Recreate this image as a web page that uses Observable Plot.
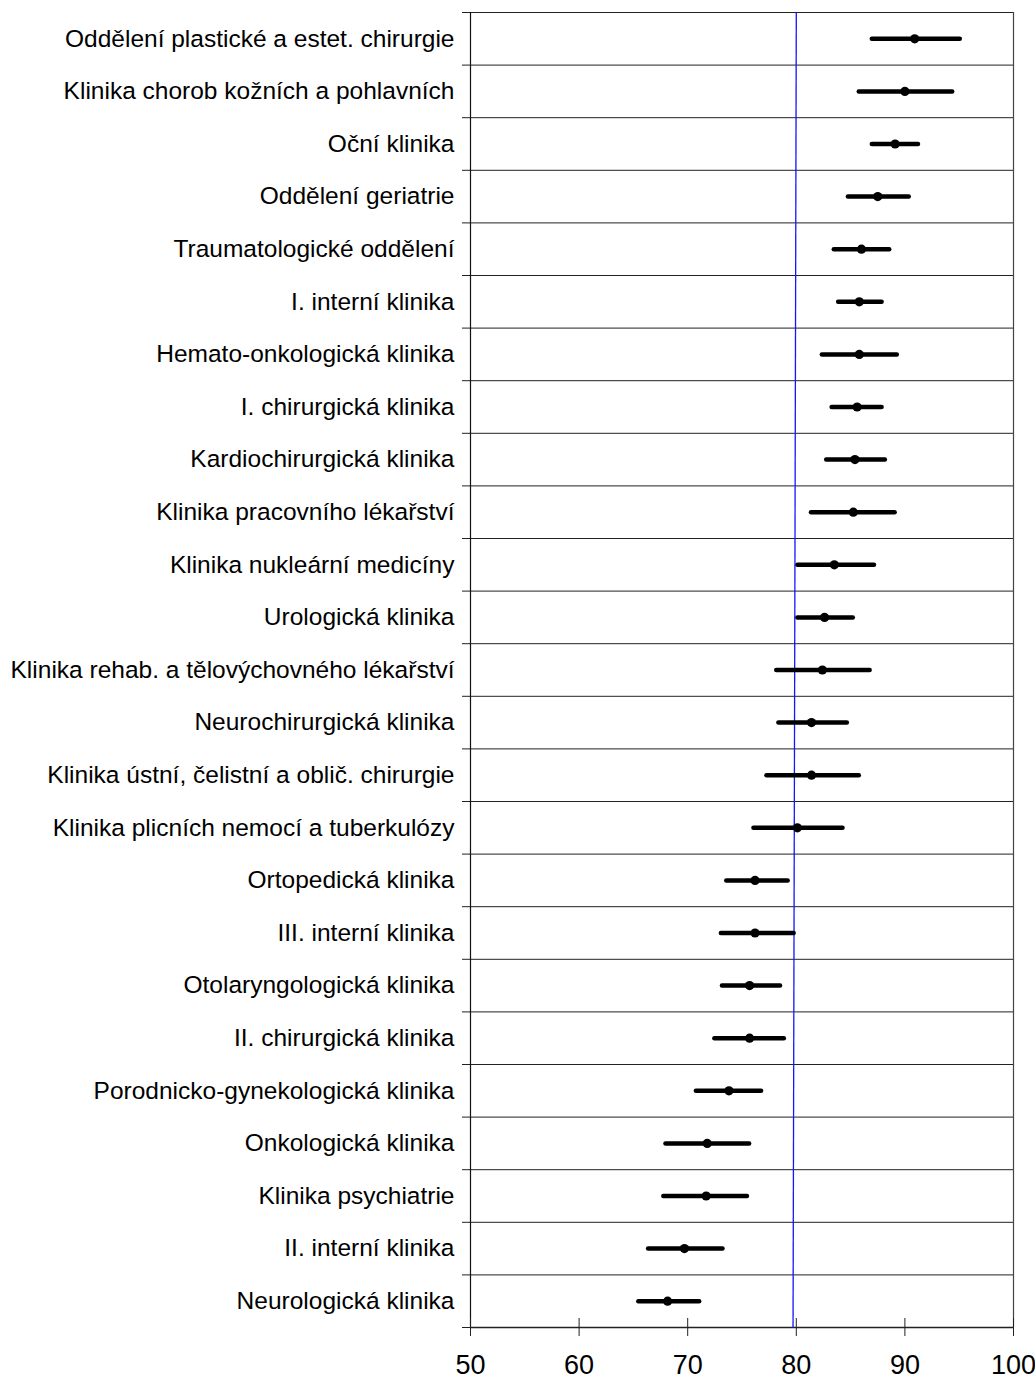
<!DOCTYPE html>
<html>
<head>
<meta charset="utf-8">
<script src="https://cdn.jsdelivr.net/npm/d3@7"></script>
<script src="https://cdn.jsdelivr.net/npm/@observablehq/plot@0.6"></script>
<style>
  html, body { margin: 0; padding: 0; background: #fff; }
  #chart svg { display: block; }
</style>
</head>
<body>
<div id="chart"></div>
<script>
const categories = [
  "Oddělení plastické a estet. chirurgie",
  "Klinika chorob kožních a pohlavních",
  "Oční klinika",
  "Oddělení geriatrie",
  "Traumatologické oddělení",
  "I. interní klinika",
  "Hemato-onkologická klinika",
  "I. chirurgická klinika",
  "Kardiochirurgická klinika",
  "Klinika pracovního lékařství",
  "Klinika nukleární medicíny",
  "Urologická klinika",
  "Klinika rehab. a tělovýchovného lékařství",
  "Neurochirurgická klinika",
  "Klinika ústní, čelistní a oblič. chirurgie",
  "Klinika plicních nemocí a tuberkulózy",
  "Ortopedická klinika",
  "III. interní klinika",
  "Otolaryngologická klinika",
  "II. chirurgická klinika",
  "Porodnicko-gynekologická klinika",
  "Onkologická klinika",
  "Klinika psychiatrie",
  "II. interní klinika",
  "Neurologická klinika"
];
const meanValues = [90.9, 90.0, 89.1, 87.5, 86.0, 85.8, 85.8, 85.6, 85.4, 85.25, 83.5, 82.6, 82.4, 81.4, 81.4, 80.1, 76.2, 76.2, 75.7, 75.7, 73.8, 71.8, 71.7, 69.7, 68.15];
const lowerValues = [87.0, 85.8, 87.0, 84.8, 83.5, 83.9, 82.4, 83.3, 82.8, 81.4, 80.15, 80.15, 78.2, 78.4, 77.3, 76.1, 73.6, 73.1, 73.2, 72.5, 70.8, 68.0, 67.8, 66.4, 65.5];
const upperValues = [95.1, 94.4, 91.25, 90.4, 88.6, 87.9, 89.3, 87.9, 88.2, 89.1, 87.2, 85.25, 86.8, 84.7, 85.8, 84.3, 79.25, 79.8, 78.55, 78.9, 76.8, 75.7, 75.5, 73.25, 71.1];
const xTicks = [50, 60, 70, 80, 90, 100];
const xDomain = [50, 100];
const referenceTop = 80;
const referenceBottom = 79.7;

const rows = categories.map((name, i) => ({
  name, row: i + 0.5, mean: meanValues[i], lower: lowerValues[i], upper: upperValues[i]
}));
const nRows = categories.length;
const boundaries = d3.range(nRows + 1);
const rowCenters = d3.range(nRows).map(i => i + 0.5);

const chart = Plot.plot({
  width: 1035,
  height: 1380,
  marginLeft: 470,
  marginRight: 22,
  marginTop: 12,
  marginBottom: 53,
  style: { fontFamily: "Arial, 'Liberation Sans', sans-serif", color: "#000", background: "#fff" },
  x: { domain: xDomain },
  y: { domain: [0, nRows], reverse: true },
  marks: [
    // row separators with outward left ticks
    Plot.ruleY(boundaries, { y: d => d, x1: xDomain[0], x2: xDomain[1], insetLeft: -8, stroke: "#222", strokeWidth: 1 }),
    // left axis line and right border
    Plot.ruleX([xDomain[0]], { y1: 0, y2: nRows, stroke: "#111", strokeWidth: 1.2 }),
    Plot.ruleX([xDomain[1]], { y1: 0, y2: nRows, stroke: "#444", strokeWidth: 1.2 }),
    // bottom axis line
    Plot.ruleY([nRows], { x1: xDomain[0], x2: xDomain[1], stroke: "#222", strokeWidth: 1.6 }),
    // crossing tick marks on x axis
    Plot.ruleX(xTicks, { x: d => d, y1: nRows, y2: nRows, insetTop: -9, insetBottom: -9, stroke: "#222", strokeWidth: 1 }),
    // reference line
    Plot.link([{ x1: referenceTop, x2: referenceBottom }], { x1: "x1", x2: "x2", y1: 0, y2: nRows, stroke: "#1414ff", strokeWidth: 1.3 }),
    // confidence intervals
    Plot.ruleY(rows, { y: "row", x1: "lower", x2: "upper", stroke: "#000", strokeWidth: 4.5, strokeLinecap: "round" }),
    Plot.dot(rows, { x: "mean", y: "row", r: 4.6, fill: "#000", stroke: "none" }),
    // axes
    Plot.axisX({ ticks: xTicks, tickSize: 0, tickPadding: 27, fontSize: 27, anchor: "bottom", label: null }),
    Plot.axisY({ ticks: rowCenters, tickFormat: v => categories[Math.floor(v)], tickSize: 0, tickPadding: 16, fontSize: 24.5, anchor: "left", label: null })
  ]
});
document.getElementById("chart").appendChild(chart);
</script>
</body>
</html>
